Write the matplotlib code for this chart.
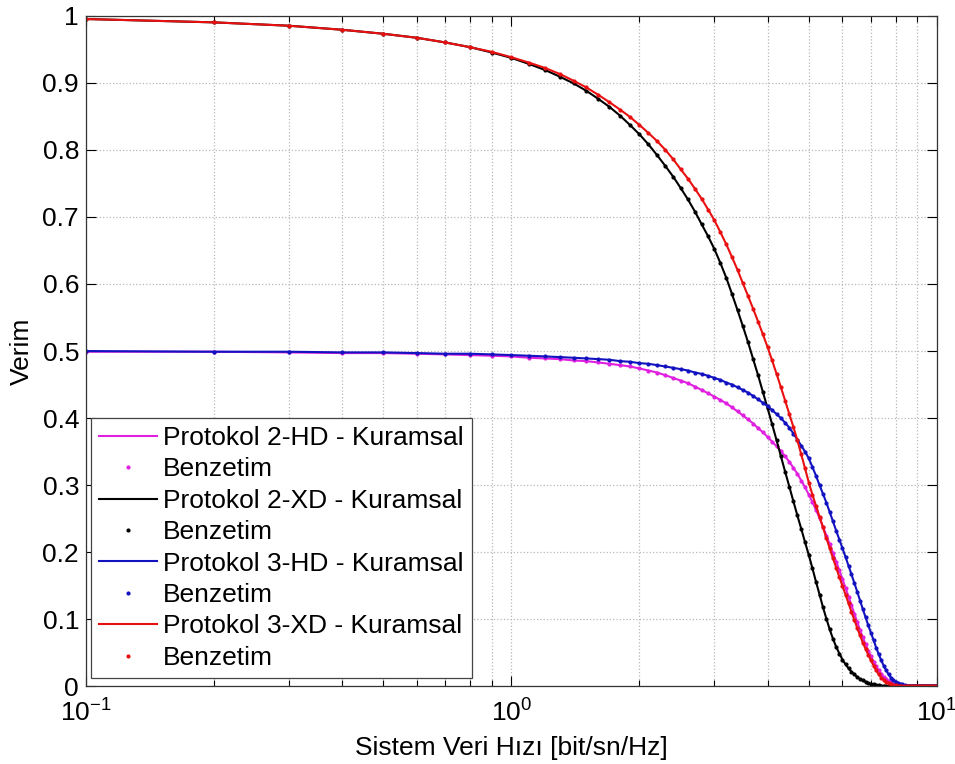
import matplotlib
matplotlib.use("Agg")
import matplotlib.pyplot as plt
from matplotlib.ticker import FixedLocator, FixedFormatter, LogLocator, NullFormatter

plt.rcParams['font.family'] = ['Liberation Sans', 'DejaVu Sans']
plt.rcParams['mathtext.fontset'] = 'custom'
plt.rcParams['mathtext.rm'] = 'Liberation Sans'
plt.rcParams['mathtext.it'] = 'Liberation Sans:italic'
plt.rcParams['mathtext.bf'] = 'Liberation Sans:bold'

# system rate grid [bit/sn/Hz]
rate = [
    0.1, 0.2, 0.3, 0.4, 0.5, 0.6, 0.7, 0.8, 0.9, 1.0,
    1.1, 1.2, 1.3, 1.4, 1.5, 1.6, 1.7, 1.8, 1.9, 2.0,
    2.1, 2.2, 2.3, 2.4, 2.5, 2.6, 2.7, 2.8, 2.9, 3.0,
    3.1, 3.2, 3.3, 3.4, 3.5, 3.6, 3.7, 3.8, 3.9, 4.0,
    4.1, 4.2, 4.3, 4.4, 4.5, 4.6, 4.7, 4.8, 4.9, 5.0,
    5.1, 5.2, 5.3, 5.4, 5.5, 5.6, 5.7, 5.8, 5.9, 6.0,
    6.1, 6.2, 6.3, 6.4, 6.5, 6.6, 6.7, 6.8, 6.9, 7.0,
    7.1, 7.2, 7.3, 7.4, 7.5, 7.6, 7.7, 7.8, 7.9, 8.0,
    8.1, 8.2, 8.3, 8.4, 8.5, 8.6, 8.7, 8.8, 8.9, 9.0,
    9.1, 9.2, 9.3, 9.4, 9.5, 9.6, 9.7, 9.8, 9.9, 10.0,
]

p2_hd = [
    0.499, 0.499, 0.498, 0.497, 0.497, 0.496, 0.495, 0.494, 0.493, 0.492,
    0.490, 0.489, 0.488, 0.486, 0.485, 0.483, 0.481, 0.479, 0.477, 0.474,
    0.471, 0.468, 0.464, 0.460, 0.456, 0.452, 0.447, 0.442, 0.437, 0.432,
    0.427, 0.422, 0.416, 0.410, 0.404, 0.398, 0.392, 0.385, 0.379, 0.372,
    0.365, 0.358, 0.351, 0.343, 0.335, 0.326, 0.317, 0.307, 0.297, 0.286,
    0.275, 0.263, 0.251, 0.238, 0.225, 0.212, 0.199, 0.186, 0.173, 0.160,
    0.147, 0.134, 0.121, 0.108, 0.096, 0.084, 0.073, 0.063, 0.053, 0.045,
    0.037, 0.030, 0.024, 0.019, 0.014, 0.011, 0.008, 0.006, 0.004, 0.003,
    0.002, 0.001, 0.001, 0.0, 0.0, 0.0, 0.0, 0.0, 0.0, 0.0,
    0.0, 0.0, 0.0, 0.0, 0.0, 0.0, 0.0, 0.0, 0.0, 0.0,
]

p2_xd = [
    0.995, 0.990, 0.985, 0.979, 0.973, 0.967, 0.960, 0.953, 0.945, 0.937,
    0.928, 0.919, 0.909, 0.899, 0.888, 0.876, 0.864, 0.851, 0.837, 0.823,
    0.808, 0.792, 0.776, 0.760, 0.743, 0.726, 0.708, 0.689, 0.671, 0.652,
    0.631, 0.609, 0.585, 0.561, 0.537, 0.513, 0.488, 0.464, 0.439, 0.415,
    0.391, 0.367, 0.343, 0.320, 0.298, 0.276, 0.255, 0.235, 0.215, 0.196,
    0.176, 0.156, 0.137, 0.118, 0.101, 0.085, 0.071, 0.059, 0.049, 0.040,
    0.033, 0.027, 0.022, 0.018, 0.014, 0.011, 0.009, 0.007, 0.005, 0.004,
    0.003, 0.002, 0.002, 0.001, 0.001, 0.001, 0.0, 0.0, 0.0, 0.0,
    0.0, 0.0, 0.0, 0.0, 0.0, 0.0, 0.0, 0.0, 0.0, 0.0,
    0.0, 0.0, 0.0, 0.0, 0.0, 0.0, 0.0, 0.0, 0.0, 0.0,
]

p3_hd = [
    0.500, 0.499, 0.499, 0.498, 0.498, 0.497, 0.496, 0.496, 0.495, 0.494,
    0.493, 0.492, 0.491, 0.490, 0.489, 0.488, 0.487, 0.485, 0.484, 0.482,
    0.481, 0.479, 0.477, 0.475, 0.473, 0.471, 0.468, 0.466, 0.463, 0.460,
    0.457, 0.453, 0.450, 0.446, 0.442, 0.438, 0.433, 0.428, 0.423, 0.418,
    0.412, 0.406, 0.400, 0.393, 0.386, 0.377, 0.368, 0.359, 0.350, 0.340,
    0.327, 0.314, 0.300, 0.287, 0.274, 0.260, 0.246, 0.232, 0.219, 0.206,
    0.193, 0.180, 0.167, 0.154, 0.141, 0.128, 0.115, 0.103, 0.091, 0.080,
    0.069, 0.058, 0.048, 0.039, 0.031, 0.024, 0.018, 0.013, 0.010, 0.007,
    0.005, 0.004, 0.003, 0.002, 0.001, 0.001, 0.0, 0.0, 0.0, 0.0,
    0.0, 0.0, 0.0, 0.0, 0.0, 0.0, 0.0, 0.0, 0.0, 0.0,
]

p3_xd = [
    0.995, 0.990, 0.985, 0.979, 0.973, 0.967, 0.960, 0.953, 0.946, 0.938,
    0.930, 0.922, 0.913, 0.903, 0.893, 0.882, 0.871, 0.860, 0.849, 0.837,
    0.825, 0.813, 0.800, 0.786, 0.771, 0.757, 0.742, 0.727, 0.711, 0.695,
    0.677, 0.659, 0.640, 0.621, 0.601, 0.582, 0.563, 0.544, 0.525, 0.506,
    0.486, 0.466, 0.446, 0.426, 0.406, 0.387, 0.367, 0.346, 0.325, 0.304,
    0.286, 0.269, 0.253, 0.237, 0.221, 0.206, 0.191, 0.177, 0.163, 0.150,
    0.137, 0.124, 0.111, 0.099, 0.087, 0.076, 0.065, 0.056, 0.047, 0.039,
    0.031, 0.024, 0.018, 0.013, 0.010, 0.007, 0.005, 0.003, 0.002, 0.002,
    0.001, 0.001, 0.0, 0.0, 0.0, 0.0, 0.0, 0.0, 0.0, 0.0,
    0.0, 0.0, 0.0, 0.0, 0.0, 0.0, 0.0, 0.0, 0.0, 0.0,
]

series = [
    ("Protokol 2-HD", p2_hd, "#e020e0"),
    ("Protokol 2-XD", p2_xd, "#000000"),
    ("Protokol 3-HD", p3_hd, "#1212c0"),
    ("Protokol 3-XD", p3_xd, "#e81010"),
]

fig = plt.figure(figsize=(9.55, 7.64), dpi=100)
ax = fig.add_axes([0.090, 0.1015, 0.891, 0.878])

for name, vals, col in series:
    ax.plot(rate, vals, color=col, lw=1.5, label=name + " - Kuramsal")
    ax.plot(rate, vals, ".", color=col, ms=4, label="Benzetim")

ax.set_xscale("log")
ax.set_xlim(0.1, 10)
ax.set_ylim(0, 1)

ax.xaxis.set_major_locator(FixedLocator([0.1, 1, 10]))
ax.xaxis.set_major_formatter(FixedFormatter([r"$10^{-1}$", r"$10^{0}$", r"$10^{1}$"]))
ax.xaxis.set_minor_locator(LogLocator(base=10, subs=range(2, 10)))
ax.xaxis.set_minor_formatter(NullFormatter())

yt = [0, 0.1, 0.2, 0.3, 0.4, 0.5, 0.6, 0.7, 0.8, 0.9, 1]
ax.set_yticks(yt)
ax.set_yticklabels(["%g" % v for v in yt])

ax.grid(True, which="major", ls=":", color="#b8b8b8", lw=0.9)
ax.grid(True, which="minor", axis="x", ls=":", color="#b8b8b8", lw=0.9)

ax.tick_params(which="both", direction="in", top=True, right=True, labelsize=19, colors="black")
ax.tick_params(which="major", length=7, width=0.8)
ax.tick_params(which="minor", length=4, width=0.8)
ax.tick_params(axis="x", pad=9)
ax.tick_params(axis="y", pad=5)
for sp in ax.spines.values():
    sp.set_color("#333333")
    sp.set_linewidth(0.9)

ax.set_xlabel("Sistem Veri Hızı [bit/sn/Hz]", fontsize=19, labelpad=7)
ax.set_ylabel("Verim", fontsize=19, labelpad=6)

leg = ax.legend(loc="lower left", bbox_to_anchor=(0.006, 0.013), fontsize=19,
                frameon=True, fancybox=False, framealpha=1, edgecolor="#444444",
                labelspacing=0.28, handlelength=2.2, handletextpad=0.23,
                borderpad=0.3, borderaxespad=0.0)
leg.get_frame().set_linewidth(0.9)

fig.savefig("out.png", dpi=100)
